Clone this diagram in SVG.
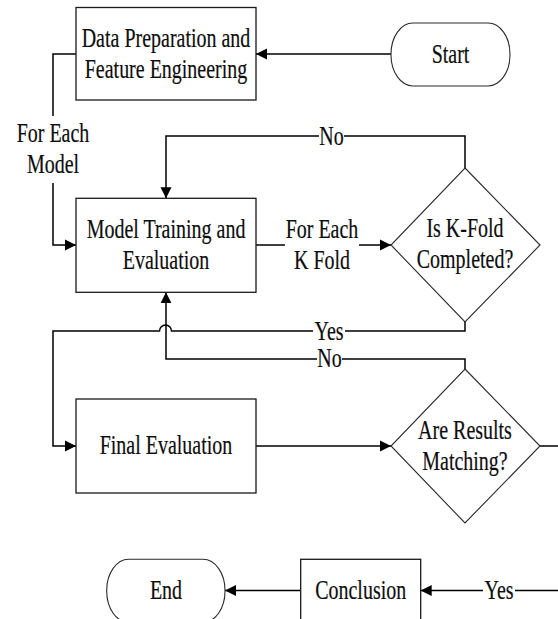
<svg xmlns="http://www.w3.org/2000/svg" width="558" height="619" viewBox="0 0 558 619">
  <style>
    .box { fill: #ffffff; stroke: #1a1a1a; stroke-width: 1.3; }
    .dec { fill: #ffffff; stroke: #2a2a2a; stroke-width: 1.1; }
    .term { fill: #ffffff; stroke: #2a2a2a; stroke-width: 1.1; }
    .conn { fill: none; stroke: #000000; stroke-width: 1.5; }
    .lbl { font-family: 'Liberation Serif', 'Times New Roman', serif; font-size: 27px; fill: #0d0d0d; stroke: #0d0d0d; stroke-width: 0.2; text-anchor: middle; }
  </style>
  <defs>
    <marker id="arrow" markerUnits="userSpaceOnUse" markerWidth="12" markerHeight="12" viewBox="0 0 12 12" refX="11" refY="6" orient="auto">
      <path d="M0,0.5 L11,6 L0,11.5 Z" fill="#000000"/>
    </marker>
  </defs>

  <!-- connectors -->
  <g id="connectors">
    <!-- Start -> Data Preparation -->
    <path class="conn" d="M391,54 H256" marker-end="url(#arrow)"/>
    <!-- Data Preparation -> Model Training (For Each Model) -->
    <path class="conn" d="M76,54 H53 V116 M53,183 V245 H76" marker-end="url(#arrow)"/>
    <!-- Model Training -> K-Fold decision (For Each K Fold) -->
    <path class="conn" d="M256,245 H285 M359,245 H391" marker-end="url(#arrow)"/>
    <!-- K-Fold decision: No -> back to Model Training -->
    <path class="conn" d="M465,168 V136 H344 M319,136 H166 V198.3" marker-end="url(#arrow)"/>
    <!-- K-Fold decision: Yes -> Final Evaluation (hops over the return line) -->
    <path class="conn" d="M465,322 V331 H345 M313,331 H171.5 A6,6 0 0 0 159.5,331 H53 V446 H76" marker-end="url(#arrow)"/>
    <!-- Results decision: No -> back to Model Training -->
    <path class="conn" d="M465,369 V359 H342 M317,359 H166 V292.3" marker-end="url(#arrow)"/>
    <!-- Final Evaluation -> Results decision -->
    <path class="conn" d="M256,446 H391" marker-end="url(#arrow)"/>
    <!-- Results decision: Yes (continues off the right edge) -->
    <path class="conn" d="M540,446 H560"/>
    <path class="conn" d="M560,590.5 H515 M483,590.5 H420.7" marker-end="url(#arrow)"/>
    <!-- Conclusion -> End -->
    <path class="conn" d="M300.7,590.5 H225" marker-end="url(#arrow)"/>

    <!-- connector labels -->
    <text class="lbl" transform="matrix(0.74 0 0 1 53 0)" x="0" y="142">For Each</text>
    <text class="lbl" transform="matrix(0.74 0 0 1 53 0)" x="0" y="173.5">Model</text>
    <text class="lbl" transform="matrix(0.74 0 0 1 322 0)" x="0" y="238.5">For Each</text>
    <text class="lbl" transform="matrix(0.74 0 0 1 322 0)" x="0" y="269.5">K Fold</text>
    <text class="lbl" transform="matrix(0.74 0 0 1 331.5 0)" x="0" y="145">No</text>
    <text class="lbl" transform="matrix(0.74 0 0 1 329 0)" x="0" y="340">Yes</text>
    <text class="lbl" transform="matrix(0.74 0 0 1 329.5 0)" x="0" y="367.5">No</text>
    <text class="lbl" transform="matrix(0.74 0 0 1 499 0)" x="0" y="599">Yes</text>
  </g>

  <g id="start">
    <rect class="term" x="391" y="23" width="119" height="63" rx="22" ry="31"/>
    <text class="lbl" transform="matrix(0.74 0 0 1 450.5 0)" x="0" y="63">Start</text>
  </g>

  <g id="data-preparation">
    <rect class="box" x="76" y="7.5" width="180" height="92.5"/>
    <text class="lbl" transform="matrix(0.74 0 0 1 166 0)" x="0" y="47.5">Data Preparation and</text>
    <text class="lbl" transform="matrix(0.74 0 0 1 166 0)" x="0" y="78.5">Feature Engineering</text>
  </g>

  <g id="model-training">
    <rect class="box" x="76" y="198.3" width="180" height="94"/>
    <text class="lbl" transform="matrix(0.74 0 0 1 166 0)" x="0" y="238.5">Model Training and</text>
    <text class="lbl" transform="matrix(0.74 0 0 1 166 0)" x="0" y="269.5">Evaluation</text>
  </g>

  <g id="kfold-decision">
    <polygon class="dec" points="465,168 540,245 465,322 391,245"/>
    <text class="lbl" transform="matrix(0.74 0 0 1 465 0)" x="0" y="237">Is K-Fold</text>
    <text class="lbl" transform="matrix(0.74 0 0 1 465 0)" x="0" y="268.5">Completed?</text>
  </g>

  <g id="final-evaluation">
    <rect class="box" x="76" y="399" width="180" height="94"/>
    <text class="lbl" transform="matrix(0.74 0 0 1 166 0)" x="0" y="454">Final Evaluation</text>
  </g>

  <g id="results-decision">
    <polygon class="dec" points="465,369 540,446 465,523 391,446"/>
    <text class="lbl" transform="matrix(0.74 0 0 1 465 0)" x="0" y="439">Are Results</text>
    <text class="lbl" transform="matrix(0.74 0 0 1 465 0)" x="0" y="470.5">Matching?</text>
  </g>

  <g id="conclusion">
    <rect class="box" x="300.7" y="559.3" width="120" height="63"/>
    <text class="lbl" transform="matrix(0.74 0 0 1 360.7 0)" x="0" y="599">Conclusion</text>
  </g>

  <g id="end">
    <rect class="term" x="106.7" y="559.3" width="118.3" height="63" rx="22" ry="31"/>
    <text class="lbl" transform="matrix(0.74 0 0 1 166 0)" x="0" y="599">End</text>
  </g>
</svg>
